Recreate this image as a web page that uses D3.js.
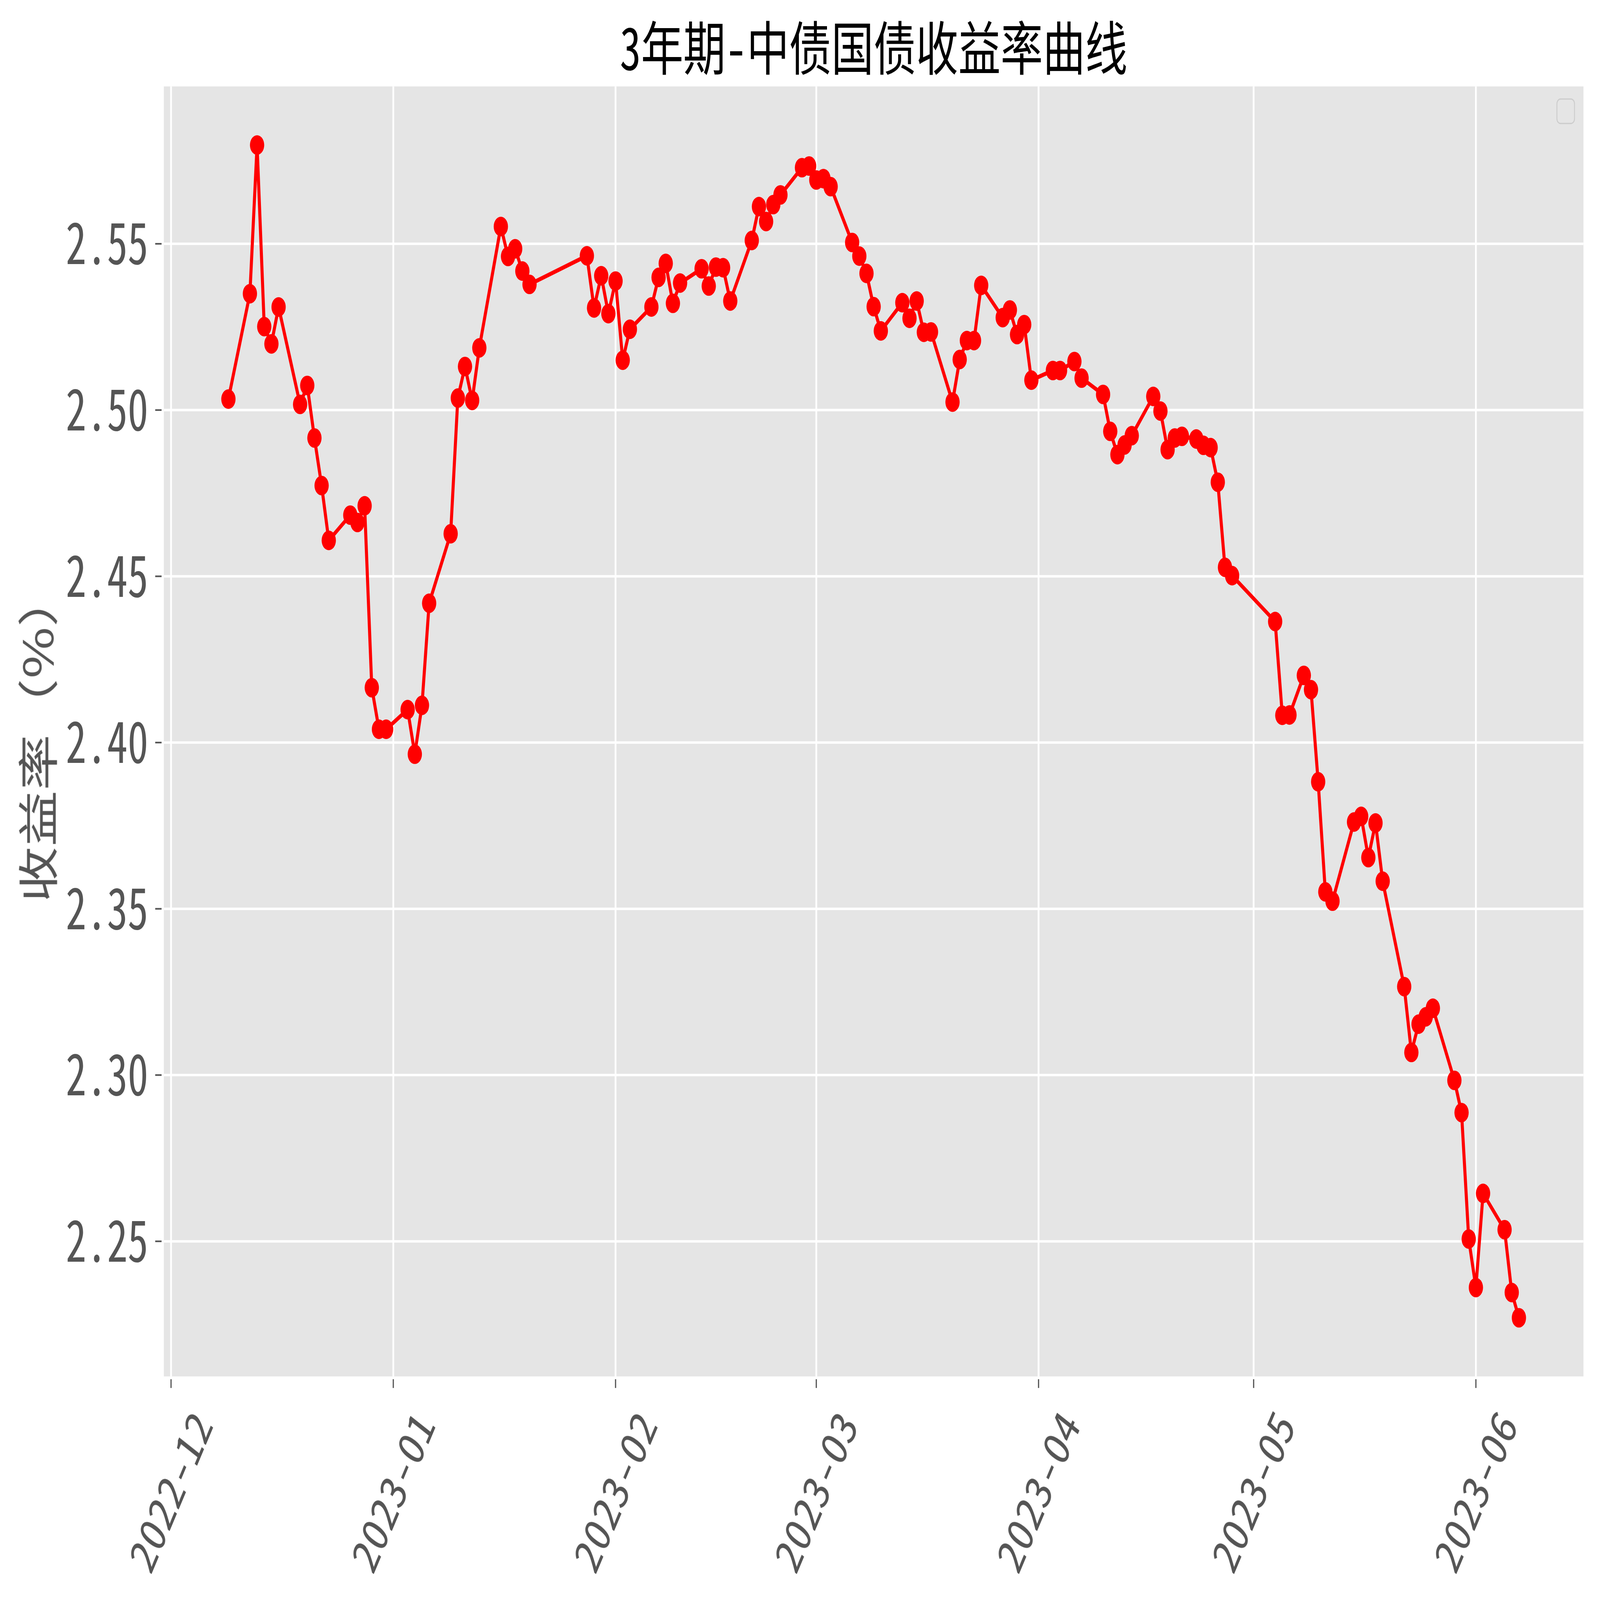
<!DOCTYPE html>
<html>
<head>
<meta charset="utf-8">
<script src="https://cdn.jsdelivr.net/npm/d3@7"></script>
<style>
  html, body { margin: 0; padding: 0; background: #ffffff; width: 100%; height: 100%; overflow: hidden; }
  #chart { position: fixed; left: 0; top: 0; width: 100vw; height: 100vh; }
  svg { display: block; width: 100%; height: 100%; }
  .cjk { font-family: "Noto Sans CJK SC", "Noto Sans", sans-serif; font-feature-settings: "hwid" 1; }
  .cjkfull { font-family: "Noto Sans CJK SC", "Noto Sans", sans-serif; }
</style>
</head>
<body>
<div id="chart"></div>
<script>
// ---------------- data ----------------
const chartTitle = "3年期-中债国债收益率曲线";
const yLabel = "收益率（%）";

const dates = [
  "2022-12-09","2022-12-12","2022-12-13","2022-12-14","2022-12-15","2022-12-16",
  "2022-12-19","2022-12-20","2022-12-21","2022-12-22","2022-12-23",
  "2022-12-26","2022-12-27","2022-12-28","2022-12-29","2022-12-30","2022-12-31",
  "2023-01-03","2023-01-04","2023-01-05","2023-01-06",
  "2023-01-09","2023-01-10","2023-01-11","2023-01-12","2023-01-13",
  "2023-01-16","2023-01-17","2023-01-18","2023-01-19","2023-01-20",
  "2023-01-28","2023-01-29","2023-01-30","2023-01-31","2023-02-01","2023-02-02","2023-02-03",
  "2023-02-06","2023-02-07","2023-02-08","2023-02-09","2023-02-10",
  "2023-02-13","2023-02-14","2023-02-15","2023-02-16","2023-02-17",
  "2023-02-20","2023-02-21","2023-02-22","2023-02-23","2023-02-24",
  "2023-02-27","2023-02-28","2023-03-01","2023-03-02","2023-03-03",
  "2023-03-06","2023-03-07","2023-03-08","2023-03-09","2023-03-10",
  "2023-03-13","2023-03-14","2023-03-15","2023-03-16","2023-03-17",
  "2023-03-20","2023-03-21","2023-03-22","2023-03-23","2023-03-24",
  "2023-03-27","2023-03-28","2023-03-29","2023-03-30","2023-03-31",
  "2023-04-03","2023-04-04","2023-04-06","2023-04-07",
  "2023-04-10","2023-04-11","2023-04-12","2023-04-13","2023-04-14",
  "2023-04-17","2023-04-18","2023-04-19","2023-04-20","2023-04-21",
  "2023-04-23","2023-04-24","2023-04-25","2023-04-26","2023-04-27","2023-04-28",
  "2023-05-04","2023-05-05","2023-05-06",
  "2023-05-08","2023-05-09","2023-05-10","2023-05-11","2023-05-12",
  "2023-05-15","2023-05-16","2023-05-17","2023-05-18","2023-05-19",
  "2023-05-22","2023-05-23","2023-05-24","2023-05-25","2023-05-26",
  "2023-05-29","2023-05-30","2023-05-31","2023-06-01","2023-06-02",
  "2023-06-05","2023-06-06","2023-06-07"
];

const yields = [
  2.5033,2.5350,2.5797,2.5251,2.5199,2.5310,
  2.5017,2.5074,2.4916,2.4773,2.4608,
  2.4684,2.4662,2.4712,2.4165,2.4040,2.4040,
  2.4099,2.3965,2.4112,2.4419,
  2.4628,2.5036,2.5131,2.5029,2.5187,
  2.5552,2.5462,2.5485,2.5418,2.5378,
  2.5464,2.5307,2.5404,2.5290,2.5388,2.5150,2.5243,
  2.5310,2.5399,2.5441,2.5321,2.5382,
  2.5425,2.5373,2.5430,2.5428,2.5328,
  2.5510,2.5612,2.5567,2.5618,2.5647,
  2.5729,2.5734,2.5692,2.5696,2.5672,
  2.5504,2.5463,2.5411,2.5311,2.5238,
  2.5323,2.5276,2.5328,2.5234,2.5235,
  2.5024,2.5152,2.5209,2.5209,2.5375,
  2.5278,2.5301,2.5227,2.5257,2.5090,
  2.5119,2.5119,2.5146,2.5096,
  2.5047,2.4936,2.4866,2.4895,2.4923,
  2.5041,2.4997,2.4881,2.4916,2.4921,
  2.4913,2.4894,2.4887,2.4783,2.4527,2.4502,
  2.4364,2.4082,2.4083,
  2.4202,2.4159,2.3882,2.3551,2.3523,
  2.3761,2.3778,2.3654,2.3758,2.3583,
  2.3266,2.3068,2.3153,2.3175,2.3201,
  2.2984,2.2887,2.2507,2.2361,2.2644,
  2.2535,2.2346,2.2270
];

const xTickLabels = ["2022-12","2023-01","2023-02","2023-03","2023-04","2023-05","2023-06"];
const yTickValues = [2.25, 2.30, 2.35, 2.40, 2.45, 2.50, 2.55];

// ---------------- layout ----------------
const W = 6278, H = 4573;
const plot = { left: 643, right: 6213, top: 247, bottom: 3934 };
const colors = { bg: "#E5E5E5", grid: "#FFFFFF", line: "#FF0000", text: "#555555", title: "#000000" };

const parseDay = d3.utcParse("%Y-%m-%d");
const parseMonth = d3.utcParse("%Y-%m");
const data = dates.map((d, i) => ({ date: parseDay(d), value: yields[i] }));

// matplotlib-like 5% margins
const xExt = d3.extent(data, d => +d.date);
const xPad = (xExt[1] - xExt[0]) * 0.05;
const yExt = d3.extent(data, d => d.value);
const yPad = (yExt[1] - yExt[0]) * 0.05;

const x = d3.scaleUtc()
  .domain([new Date(xExt[0] - xPad), new Date(xExt[1] + xPad)])
  .range([plot.left, plot.right]);
const y = d3.scaleLinear()
  .domain([yExt[0] - yPad, yExt[1] + yPad])
  .range([plot.bottom, plot.top]);

const svg = d3.select("#chart").append("svg")
  .attr("viewBox", `0 0 ${W} ${H}`)
  .attr("preserveAspectRatio", "none");

svg.append("rect").attr("width", W).attr("height", H).attr("fill", "#ffffff");

// plot background
svg.append("rect")
  .attr("x", plot.left).attr("y", plot.top)
  .attr("width", plot.right - plot.left).attr("height", plot.bottom - plot.top)
  .attr("fill", colors.bg);

const xTicks = xTickLabels.map(s => parseMonth(s));

// grid
const grid = svg.append("g");
grid.selectAll("line.gx").data(xTicks).join("line")
  .attr("x1", d => x(d)).attr("x2", d => x(d))
  .attr("y1", plot.top).attr("y2", plot.bottom)
  .attr("stroke", colors.grid).attr("stroke-width", 7);
grid.selectAll("line.gy").data(yTickValues).join("line")
  .attr("x1", plot.left).attr("x2", plot.right)
  .attr("y1", d => y(d)).attr("y2", d => y(d))
  .attr("stroke", colors.grid).attr("stroke-width", 7);

// line + markers
const line = d3.line().x(d => x(d.date)).y(d => y(d.value));
svg.append("path").datum(data)
  .attr("d", line)
  .attr("fill", "none")
  .attr("stroke", colors.line)
  .attr("stroke-width", 12)
  .attr("stroke-linejoin", "round")
  .attr("stroke-linecap", "round");

svg.append("g").selectAll("circle").data(data).join("circle")
  .attr("cx", d => x(d.date)).attr("cy", d => y(d.value))
  .attr("r", 28)
  .attr("fill", colors.line);

// empty legend box (top-right)
svg.append("rect")
  .attr("x", plot.right - 104).attr("y", plot.top + 36)
  .attr("width", 69).attr("height", 70)
  .attr("rx", 14).attr("ry", 14)
  .attr("fill", colors.bg).attr("fill-opacity", 0.8)
  .attr("stroke", "#CCCCCC").attr("stroke-width", 3.5);

// ticks
const tickLen = 25, tickGap = 9;
const ticks = svg.append("g").attr("stroke", colors.text).attr("stroke-width", 4.7);
ticks.selectAll("line.tx").data(xTicks).join("line")
  .attr("x1", d => x(d)).attr("x2", d => x(d))
  .attr("y1", plot.bottom + tickGap - 1).attr("y2", plot.bottom + tickGap - 1 + tickLen);
ticks.selectAll("line.ty").data(yTickValues).join("line")
  .attr("x1", plot.left - tickGap).attr("x2", plot.left - tickGap - tickLen)
  .attr("y1", d => y(d)).attr("y2", d => y(d));

// y tick labels
const yFontSize = 162;
const fmtY = d3.format(".2f");
svg.append("g").attr("class", "cjk")
  .selectAll("text").data(yTickValues).join("text")
  .attr("x", 582)
  .attr("y", d => y(d) + yFontSize * 0.36)
  .attr("text-anchor", "end")
  .attr("font-size", yFontSize)
  .attr("fill", colors.text)
  .text(d => fmtY(d));

// x tick labels (rotated 60deg)
const xFontSize = 142;
const xLabelCenterY = 4264;
svg.append("g").attr("class", "cjk")
  .selectAll("text").data(xTicks).join("text")
  .attr("transform", d => `translate(${x(d)},${xLabelCenterY}) rotate(-60)`)
  .attr("x", 0).attr("y", xFontSize * 0.36)
  .attr("text-anchor", "middle")
  .attr("font-size", xFontSize)
  .attr("fill", colors.text)
  .text((d, i) => xTickLabels[i]);

// y axis label
svg.append("text").attr("class", "cjkfull")
  .attr("transform", `translate(140,${(plot.top + plot.bottom) / 2 + 15}) rotate(-90)`)
  .attr("text-anchor", "middle")
  .attr("dominant-baseline", "central")
  .attr("font-size", 160)
  .attr("fill", colors.text)
  .text(yLabel);

// title
svg.append("text").attr("class", "cjk")
  .attr("x", (plot.left + plot.right) / 2)
  .attr("y", 200)
  .attr("text-anchor", "middle")
  .attr("font-size", 166)
  .attr("fill", colors.title)
  .text(chartTitle);
</script>
</body>
</html>
